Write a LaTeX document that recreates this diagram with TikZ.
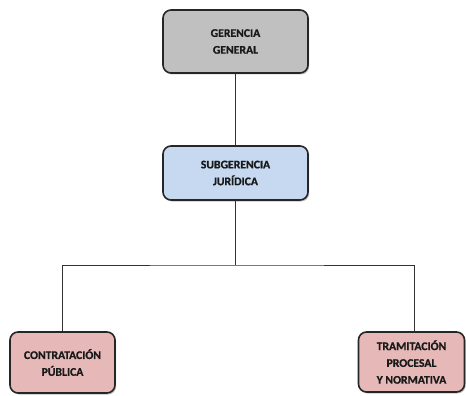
\documentclass[tikz,border=0pt]{standalone}
\usepackage{fontspec}
\setmainfont{Carlito}[BoldFont={Carlito Bold}, BoldFeatures={FakeBold=0.8}]
\usetikzlibrary{shadows}
\definecolor{boxgray}{HTML}{C0C0C0}
\definecolor{boxblue}{HTML}{C6D9F1}
\definecolor{boxpink}{HTML}{E6B9B8}
\tikzset{
  unit/.style={draw=black!85, line width=1.6pt, rounded corners=8pt,
    align=center, inner sep=0pt,
    font=\fontsize{11.7}{16.8}\selectfont\bfseries, text=black!90,
    drop shadow={shadow xshift=1.2pt, shadow yshift=-1.5pt, fill=black!40, opacity=0.6}},
  link/.style={draw=black!80, line width=0.8pt}
}
\begin{document}
\begin{tikzpicture}[x=1pt, y=1pt]
  \useasboundingbox (0,0) rectangle (466,-396);
  % organisation units
  \node[unit, fill=boxgray, minimum width=145pt, minimum height=63pt] (gg) at (235.5,-41.5) {GERENCIA\\GENERAL};
  \node[unit, fill=boxblue, minimum width=145pt, minimum height=54pt] (sj) at (235.5,-173) {SUBGERENCIA\\JURÍDICA};
  \node[unit, fill=boxpink, minimum width=105pt, minimum height=61pt] (cp) at (62.5,-362.5) {CONTRATACIÓN\\PÚBLICA};
  \node[unit, fill=boxpink, minimum width=106pt, minimum height=60pt] (tp) at (411.5,-362) {TRAMITACIÓN\\PROCESAL\\Y NORMATIVA};
  % reporting lines
  \coordinate (bus) at (235.5,-265);
  \coordinate (tpin) at (414,-332);
  \draw[link] (gg.south) -- (sj.north);
  \draw[link] (sj.south) -- (bus);
  \draw[link] (cp.north) |- (bus) -| (tpin);
\end{tikzpicture}
\end{document}
